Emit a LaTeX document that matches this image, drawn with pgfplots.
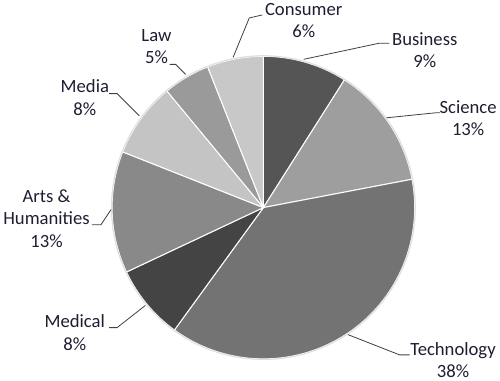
\documentclass[border=0pt]{standalone}
\usepackage{pgfplots}
\pgfplotsset{compat=1.18}
\usepackage{fontspec}
\setmainfont{Carlito}
\definecolor{cBus}{HTML}{555555}
\definecolor{cSci}{HTML}{9E9E9E}
\definecolor{cTec}{HTML}{737373}
\definecolor{cMed}{HTML}{444444}
\definecolor{cArt}{HTML}{898989}
\definecolor{cMda}{HTML}{C4C4C4}
\definecolor{cLaw}{HTML}{9A9A9A}
\definecolor{cCon}{HTML}{C8C8C8}
\definecolor{txt}{HTML}{1E1E32}
% pie: centre (263,175), radius 150, start at 12 o'clock, clockwise
\newcommand\slice[3]{% #1 = cumulative percent before, #2 = percent, #3 = colour
  \pgfmathsetmacro\sa{90-3.6*(#1)}%
  \pgfmathsetmacro\sb{90-3.6*((#1)+(#2))}%
  \edef\doslice{\noexpand\addplot[fill=#3, draw=white, line width=1pt, line join=round,
     domain=\sb:\sa, samples=90]
     ({263+150*cos(x)},{175+150*sin(x)}) -- (axis cs:263,175) -- cycle;}%
  \doslice}
\begin{document}
\begin{tikzpicture}[font=\fontsize{18.5bp}{22bp}\selectfont]
\begin{axis}[
  width=500bp, height=381bp, scale only axis,
  xmin=0, xmax=500, ymin=0, ymax=381,
  hide axis, clip=false,
]
% values (percent): Business 9, Science 13, Technology 38, Medical 8,
% Arts & Humanities 13, Media 8, Law 5, Consumer 6
\slice{0}{9}{cBus}
\slice{9}{13}{cSci}
\slice{22}{38}{cTec}
\slice{60}{8}{cMed}
\slice{68}{13}{cArt}
\slice{81}{8}{cMda}
\slice{89}{5}{cLaw}
\slice{94}{6}{cCon}
\draw[gray!25, line width=1.2pt] (axis cs:263,175) circle [radius=150.5];
% leader lines
\draw[black!75, line width=0.8pt] (axis cs:233,324) -- (axis cs:249,363) -- (axis cs:262,366);
\draw[black!75, line width=0.8pt] (axis cs:303,322) -- (axis cs:378,338) -- (axis cs:388,338);
\draw[black!75, line width=0.8pt] (axis cs:385,264) -- (axis cs:434,269) -- (axis cs:438,269);
\draw[black!75, line width=0.8pt] (axis cs:347,49) -- (axis cs:398,29) -- (axis cs:408,29);
\draw[black!75, line width=0.8pt] (axis cs:146,78) -- (axis cs:118,56) -- (axis cs:110,56);
\draw[black!75, line width=0.8pt] (axis cs:112,173) -- (axis cs:102,158) -- (axis cs:93,158);
\draw[black!75, line width=0.8pt] (axis cs:140,266) -- (axis cs:118,288) -- (axis cs:110,288);
\draw[black!75, line width=0.8pt] (axis cs:186,307) -- (axis cs:176,317) -- (axis cs:170,317);
% labels
\node[txt, align=center, anchor=north] at (axis cs:303,381) {Consumer\\6\%};
\node[txt, align=center, anchor=north] at (axis cs:423,352) {Business\\9\%};
\node[txt, align=center, anchor=north] at (axis cs:466,285) {Science\\13\%};
\node[txt, align=center, anchor=north] at (axis cs:451,45) {Technology\\38\%};
\node[txt, align=center, anchor=north] at (axis cs:76,72) {Medical\\8\%};
\node[txt, align=center, anchor=north] at (axis cs:48,196) {Arts \&\\Humanities\\13\%};
\node[txt, align=center, anchor=north] at (axis cs:86,305) {Media\\8\%};
\node[txt, align=center, anchor=north] at (axis cs:157,355) {Law\\5\%};
\end{axis}
\end{tikzpicture}
\end{document}
